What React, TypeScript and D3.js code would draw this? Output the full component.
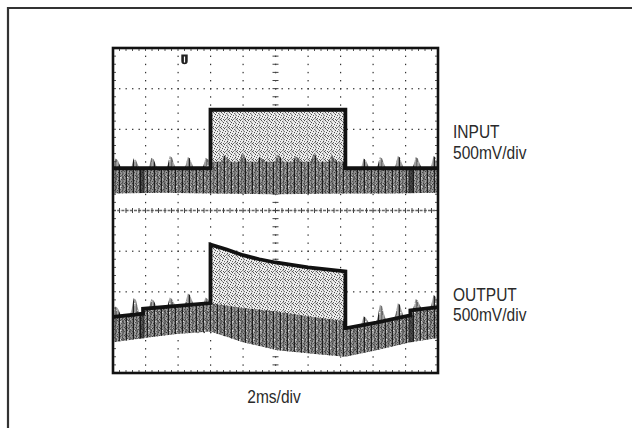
import React from "react";
import * as d3 from "d3";

const W = 632;
const H = 428;

// Horizontal: 2 ms/div, 10 divisions. Vertical: 500 mV/div, 8 divisions (volts from screen centre)
const timeDomainMs = [0, 20];
const voltDomain = [-2, 2];
const timeMajor = [0, 2, 4, 6, 8, 10, 12, 14, 16, 18, 20];
const voltMajor = [-2, -1.5, -1, -0.5, 0, 0.5, 1, 1.5, 2];

// INPUT channel
const inputTraceT = [0, 6.0, 6.0, 14.3, 14.3, 20];
const inputTraceV = [0.52, 0.52, 1.24, 1.24, 0.52, 0.52];
const inputDenseT = [0, 6.0, 6.0, 14.3, 14.3, 20];
const inputDenseV = [0.52, 0.52, 0.6, 0.6, 0.52, 0.52];
const inputFloorT = [0, 3, 6, 10, 14.3, 17, 20];
const inputFloorV = [0.21, 0.22, 0.21, 0.2, 0.21, 0.21, 0.22];
const inputSpikeT = [0.23, 1.35, 2.44, 3.57, 4.68, 5.77, 6.9, 8.0, 9.1, 10.2, 11.3, 12.4, 13.5, 15.5, 16.5, 17.6, 18.7, 19.8];
const inputSpikeV = [0.64, 0.64, 0.65, 0.67, 0.66, 0.65, 0.68, 0.7, 0.66, 0.69, 0.67, 0.7, 0.68, 0.64, 0.66, 0.67, 0.66, 0.67];

// OUTPUT channel
const outputTraceT = [0, 1.85, 1.85, 6.0, 6.0, 7.0, 8.0, 9.0, 10.0, 12.0, 14.3, 14.3, 16.2, 18.3, 18.3, 20];
const outputTraceV = [-1.31, -1.27, -1.21, -1.14, -0.42, -0.48, -0.55, -0.6, -0.64, -0.7, -0.75, -1.45, -1.38, -1.29, -1.23, -1.19];
const outputDenseT = [0, 1.85, 1.85, 6.0, 8.0, 10.0, 12.0, 14.3, 14.3, 16.2, 18.3, 18.3, 20];
const outputDenseV = [-1.31, -1.27, -1.21, -1.14, -1.2, -1.24, -1.3, -1.36, -1.45, -1.38, -1.29, -1.23, -1.19];
const outputFloorT = [0, 1.9, 3.9, 6.0, 8.0, 10.1, 12.1, 14.3, 16.2, 18.3, 20];
const outputFloorV = [-1.62, -1.57, -1.52, -1.49, -1.62, -1.72, -1.76, -1.8, -1.72, -1.62, -1.57];
const outputSpikeT = [0.23, 1.35, 2.44, 3.57, 4.68, 5.77, 15.5, 16.5, 17.6, 18.7, 19.8];
const outputSpikeV = [-1.18, -1.08, -1.09, -1.07, -1.02, -1.07, -1.3, -1.16, -1.14, -1.09, -1.04];

const burstT = [1.75, 18.3];
const triggerT = 4.4;

const channelLabels = ["INPUT", "OUTPUT"];
const channelScale = "500mV/div";
const timebaseLabel = "2ms/div";

type P = [number, number];
const zip = (t: number[], v: number[]): P[] => t.map((d, i) => [d, v[i]]);
const interp = (t: number[], v: number[], q: number) => {
  for (let i = 0; i < t.length - 1; i++) {
    if (q >= t[i] && q <= t[i + 1] && t[i + 1] > t[i]) {
      return v[i] + ((v[i + 1] - v[i]) * (q - t[i])) / (t[i + 1] - t[i]);
    }
  }
  return v[v.length - 1];
};

// texture cells for the speckle pattern (pattern styling, not data)
const speckleDots: [number, number, string][] = [
  [0, 0, "#444"], [2, 1, "#666"], [5, 0, "#555"], [7, 2, "#444"], [1, 3, "#555"], [4, 3, "#777"],
  [6, 4, "#444"], [0, 5, "#666"], [3, 5, "#444"], [5, 6, "#666"], [7, 7, "#555"], [1, 7, "#777"],
  [3, 2, "#888"], [6, 1, "#888"], [2, 6, "#888"], [4, 7, "#555"],
];

export default function App() {
  const x = d3.scaleLinear().domain(timeDomainMs).range([113, 438]);
  const y = d3.scaleLinear().domain(voltDomain).range([373, 48]);
  const font = "'Liberation Sans', Arial, sans-serif";

  const line = d3.line<P>().x((d) => x(d[0])).y((d) => y(d[1]));
  const bandArea = (topT: number[], topV: number[], botT: number[], botV: number[]) => {
    const ts = Array.from(new Set([...topT, ...botT])).sort((a, b) => a - b);
    const top = zip(topT, topV).map(([t, v]) => [x(t), y(v)] as P);
    const bot = ts.map((t) => [x(t), y(interp(botT, botV, t))] as P).reverse();
    return "M" + [...top, ...bot].map((p) => p.join(",")).join("L") + "Z";
  };

  const minorT = d3.range(0, 20.001, 0.4);
  const minorV = d3.range(-2, 2.001, 0.1);

  const spikePath = (t: number, top: number, baseT: number[], baseV: number[]) => {
    const hw = 0.32;
    const t1 = Math.max(0, t - hw);
    const t2 = Math.min(20, t + hw);
    const b1 = y(interp(baseT, baseV, t1)) + 1;
    const b2 = y(interp(baseT, baseV, t2)) + 1;
    const yt = y(top);
    return `M${x(t1)},${b1}L${x(t - 0.2)},${(b1 + yt) / 2 + 2}L${x(t - 0.08)},${yt}L${x(t + 0.06)},${yt + 1.5}L${x(t + 0.16)},${(b2 + yt) / 2}L${x(t2)},${b2}Z`;
  };

  const label = (s: string, lx: number, ly: number, anchor: string = "start") => (
    <text transform={`translate(${lx},${ly}) scale(0.84,1)`} textAnchor={anchor}>{s}</text>
  );

  return (
    <svg width={W} height={H} style={{ position: "absolute", left: 0, top: 0, background: "#fff" }}>
      <defs>
        <pattern id="dense" patternUnits="userSpaceOnUse" width="7" height="9">
          <rect x="0" y="0" width="1" height="9" fill="#1e1e1e" />
          <rect x="1.4" y="0" width="0.9" height="6" fill="#555" />
          <rect x="1.4" y="6.8" width="0.9" height="2.2" fill="#888" />
          <rect x="2.7" y="0" width="1" height="9" fill="#333" />
          <rect x="4.2" y="0" width="0.8" height="4" fill="#777" />
          <rect x="4.2" y="4.6" width="0.8" height="4.4" fill="#444" />
          <rect x="5.6" y="0" width="1" height="9" fill="#2a2a2a" />
        </pattern>
        <pattern id="speckle" patternUnits="userSpaceOnUse" width="8" height="8">
          <rect x="0" y="0" width="8" height="8" fill="#f0f0f0" />
          <rect x="3.5" y="0" width="0.6" height="8" fill="#aaa" />
          {speckleDots.map(([px, py, c], i) => (
            <rect key={i} x={px} y={py} width={1} height={1.1} fill={c} />
          ))}
        </pattern>
        <clipPath id="plotClip">
          <rect x={x(0)} y={y(2)} width={x(20) - x(0)} height={y(-2) - y(2)} />
        </clipPath>
      </defs>

      {/* outer frame */}
      <path d={`M8,${H}V8H${W}`} fill="none" stroke="#333" strokeWidth={2.2} />

      {/* graticule */}
      <g>
        {timeMajor.slice(1, -1).filter((t) => t !== 10).map((t) =>
          minorV.map((v, j) => (
            <rect key={`gv${t}-${j}`} x={x(t) - 0.5} y={y(v) - 0.5} width={1.2} height={1.4} fill="#333" />
          ))
        )}
        {voltMajor.slice(1, -1).filter((v) => v !== 0).map((v) =>
          minorT.map((t, j) => (
            <rect key={`gh${v}-${j}`} x={x(t) - 0.5} y={y(v) - 0.5} width={1.4} height={1.2} fill="#333" />
          ))
        )}
        {/* centre lines */}
        <line x1={x(0)} x2={x(20)} y1={y(0)} y2={y(0)} stroke="#666" strokeWidth={1.3} strokeDasharray="3 1.2" />
        {minorT.map((t, j) => (
          <line key={`ct${j}`} x1={x(t)} x2={x(t)} y1={y(0) - 2.5} y2={y(0) + 2.5} stroke="#444" strokeWidth={1} />
        ))}
        {minorV.map((v, j) => (
          <g key={`cv${j}`}>
            <rect x={x(10) - 0.5} y={y(v) - 0.5} width={1.2} height={1.4} fill="#333" />
            <line x1={x(10) - 3} x2={x(10) + 3} y1={y(v)} y2={y(v)} stroke="#444" strokeWidth={1} />
          </g>
        ))}
        {/* border minor ticks */}
        {minorT.map((t, j) => (
          <g key={`bt${j}`}>
            <line x1={x(t)} x2={x(t)} y1={y(2)} y2={y(2) + 3} stroke="#555" />
            <line x1={x(t)} x2={x(t)} y1={y(-2)} y2={y(-2) - 3} stroke="#555" />
          </g>
        ))}
        {minorV.map((v, j) => (
          <g key={`bv${j}`}>
            <line x1={x(0)} x2={x(0) + 3} y1={y(v)} y2={y(v)} stroke="#555" />
            <line x1={x(20)} x2={x(20) - 3} y1={y(v)} y2={y(v)} stroke="#555" />
          </g>
        ))}
      </g>

      <g clipPath="url(#plotClip)">
        {/* INPUT */}
        <path d={bandArea(inputTraceT, inputTraceV, inputFloorT, inputFloorV)} fill="url(#speckle)" />
        <path d={bandArea(inputDenseT, inputDenseV, inputFloorT, inputFloorV)} fill="url(#dense)" />
        {inputSpikeT.map((t, i) => (
          <path key={`is${i}`} d={spikePath(t, inputSpikeV[i], inputDenseT, inputDenseV)} fill="url(#dense)" />
        ))}
        {burstT.map((t, i) => (
          <rect key={`ib${i}`} x={x(t) - 2} y={y(interp(inputTraceT, inputTraceV, t))} width={5}
            height={y(interp(inputFloorT, inputFloorV, t)) - y(interp(inputTraceT, inputTraceV, t))} fill="#111" opacity={0.6} />
        ))}
        <path d={line(zip(inputTraceT, inputTraceV)) || ""} fill="none" stroke="#111" strokeWidth={3.8} />

        {/* OUTPUT */}
        <path d={bandArea(outputTraceT, outputTraceV, outputFloorT, outputFloorV)} fill="url(#speckle)" />
        <path d={bandArea(outputDenseT, outputDenseV, outputFloorT, outputFloorV)} fill="url(#dense)" />
        {outputSpikeT.map((t, i) => (
          <path key={`os${i}`} d={spikePath(t, outputSpikeV[i], outputDenseT, outputDenseV)} fill="url(#dense)" />
        ))}
        {burstT.map((t, i) => (
          <rect key={`ob${i}`} x={x(t) - 2} y={y(interp(outputTraceT, outputTraceV, t))} width={5}
            height={y(interp(outputFloorT, outputFloorV, t)) - y(interp(outputTraceT, outputTraceV, t))} fill="#111" opacity={0.55} />
        ))}
        <path d={line(zip(outputTraceT, outputTraceV)) || ""} fill="none" stroke="#111" strokeWidth={3.8} />
      </g>

      {/* trigger marker */}
      <g transform={`translate(${x(triggerT)},${y(2)})`}>
        <path d="M-3.2,6.5h6.4v6.5a3.2,3.2 0 0 1 -6.4,0z" fill="#222" />
        <rect x={-0.6} y={8.5} width={1.2} height={6} fill="#fff" />
      </g>

      {/* plot border */}
      <rect x={x(0)} y={y(2)} width={x(20) - x(0)} height={y(-2) - y(2)} fill="none" stroke="#111" strokeWidth={2.6} />

      {/* labels */}
      <g fontFamily={font} fontSize={18.5} fill="#2a2a2a">
        {label(channelLabels[0], 453, 137.5)}
        {label(channelScale, 453, 158.5)}
        {label(channelLabels[1], 453, 300.5)}
        {label(channelScale, 453, 321)}
        {label(timebaseLabel, 274, 403, "middle")}
      </g>
    </svg>
  );
}
